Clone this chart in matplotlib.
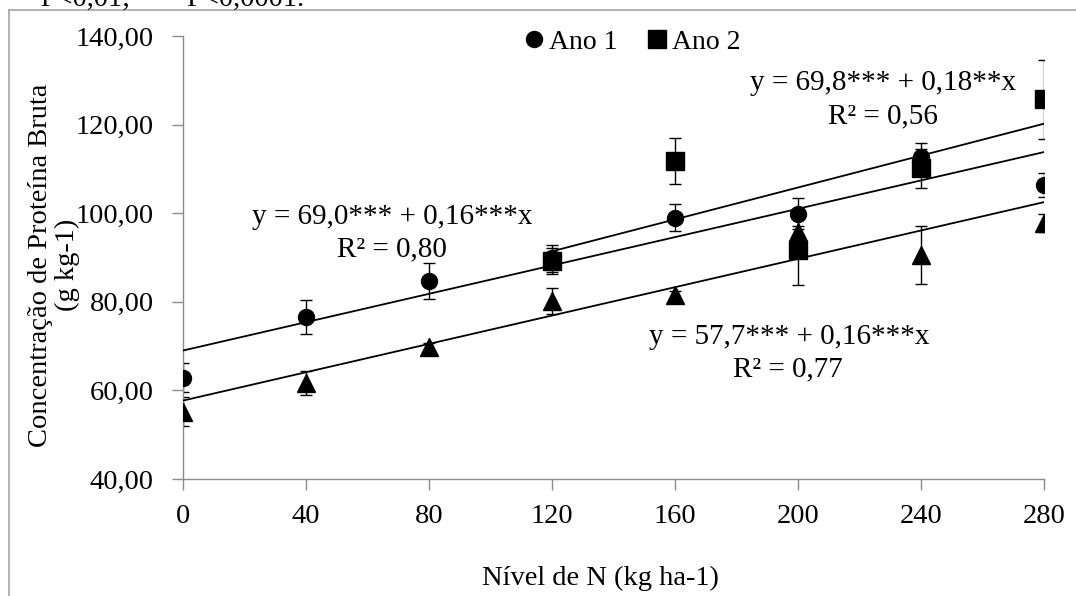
import numpy as np
import matplotlib.pyplot as plt
from matplotlib.lines import Line2D

# data
niveis = [0, 40, 80, 120, 160, 200, 240, 280]
ano1 = [62.9, 76.6, 84.7, 89.8, 99.0, 99.9, 112.7, 106.4]
ano1_err = [3.2, 3.8, 4.1, 3.1, 3.1, 3.5, 3.2, 2.7]
niveis_ano2 = [120, 160, 200, 240, 280]
ano2 = [89.2, 111.8, 91.7, 110.1, 125.7]
ano2_err = [2.9, 5.2, 7.9, 4.5, 8.9]
media = [55.2, 61.6, 69.8, 80.2, 81.5, 95.8, 90.5, 97.8]
media_err = [3.2, 2.7, 0.9, 3.0, 0.9, 1.3, 6.5, 2.1]

# regression coefficients (intercept, slope)
reg_ano1 = (69.0, 0.16)
reg_ano2 = (69.8, 0.18)
reg_media = (57.7, 0.16)

yticks = [40, 60, 80, 100, 120, 140]
xticks = [0, 40, 80, 120, 160, 200, 240, 280]

plt.rcParams['font.family'] = ['Liberation Serif', 'DejaVu Serif']
plt.rcParams['font.size'] = 20.5

W, H = 1076, 596
fig = plt.figure(figsize=(W / 100, H / 100), dpi=100)
ax = fig.add_axes([183 / W, 1 - 479 / H, (1044 - 183) / W, (479 - 36) / H])

ebkw = dict(fmt='none', ecolor='black', elinewidth=1.0, capsize=4.5, capthick=1.0, zorder=2)
ax.errorbar(niveis, media, yerr=media_err, **ebkw)
ax.errorbar(niveis, ano1, yerr=ano1_err, **ebkw)
ax.errorbar(niveis_ano2, ano2, yerr=ano2_err, **ebkw)

# trend lines
xl = np.array([0, 280])
ax.plot(xl, reg_ano1[0] + reg_ano1[1] * xl, color='black', lw=1.3, zorder=3)
ax.plot(xl, reg_media[0] + reg_media[1] * xl, color='black', lw=1.3, zorder=3)
xl2 = np.array([120, 280])
ax.plot(xl2, reg_ano2[0] + reg_ano2[1] * xl2, color='black', lw=1.3, zorder=3)

ax.plot(niveis, media, '^', color='black', ms=13, ls='none', zorder=4)
ax.plot(niveis, ano1, 'o', color='black', ms=11.5, ls='none', zorder=4)
ax.plot(niveis_ano2, ano2, 's', color='black', ms=12.5, ls='none', zorder=5)

ax.set_xlim(0, 280)
ax.set_ylim(40, 140)
ax.set_xticks(xticks)
ax.set_yticks(yticks)
ax.set_yticklabels([f'{v:.2f}'.replace('.', ',') for v in yticks])

for s in ['top', 'right']:
    ax.spines[s].set_visible(False)
for s in ['left', 'bottom']:
    ax.spines[s].set_color('#8c8c8c')
    ax.spines[s].set_linewidth(1.0)
ax.tick_params(axis='both', direction='out', length=8, width=1.0, color='#8c8c8c')
ax.tick_params(axis='y', pad=13)
ax.tick_params(axis='x', pad=10)

# equations
eq = dict(transform=fig.transFigure, ha='center', va='center', fontsize=21)
ax.text(392 / W, 1 - 217 / H, 'y = 69,0*** + 0,16***x', **eq)
ax.text(392 / W, 1 - 249 / H, 'R² = 0,80', **eq)
ax.text(883 / W, 1 - 83 / H, 'y = 69,8*** + 0,18**x', **eq)
ax.text(883 / W, 1 - 116 / H, 'R² = 0,56', **eq)
ax.text(789 / W, 1 - 337 / H, 'y = 57,7*** + 0,16***x', **eq)
ax.text(788 / W, 1 - 369 / H, 'R² = 0,77', **eq)

# legend
handles = [Line2D([], [], marker='o', color='black', ls='none', ms=11.5),
           Line2D([], [], marker='s', color='black', ls='none', ms=12.5)]
fig.legend(handles, ['Ano 1', 'Ano 2'], loc='center', bbox_to_anchor=(633 / W, 1 - 42 / H),
           ncol=2, frameon=False, handlelength=0.6, handletextpad=0.25, columnspacing=1.1,
           borderpad=0, fontsize=20)

fig.text(54 / W, 1 - 265 / H, 'Concentração de Proteína Bruta\n(g kg-1)', rotation=90,
         ha='center', va='center', multialignment='center', linespacing=1.05)
fig.text(600 / W, 1 - 578 / H, 'Nível de N (kg ha-1)', ha='center', va='center')

# cut-off note from the page above the chart
fig.text(5 / W, 1 - 6 / H, '** P<0,01; *** P<0,0001.', ha='left', va='baseline')

# outer chart frame
fig.add_artist(Line2D([9 / W, 1], [1 - 10 / H, 1 - 10 / H], color='#a6a6a6', lw=1.2,
                      transform=fig.transFigure))
fig.add_artist(Line2D([9 / W, 9 / W], [0, 1 - 10 / H], color='#a6a6a6', lw=1.2,
                      transform=fig.transFigure))

fig.savefig('out.png', dpi=100)
